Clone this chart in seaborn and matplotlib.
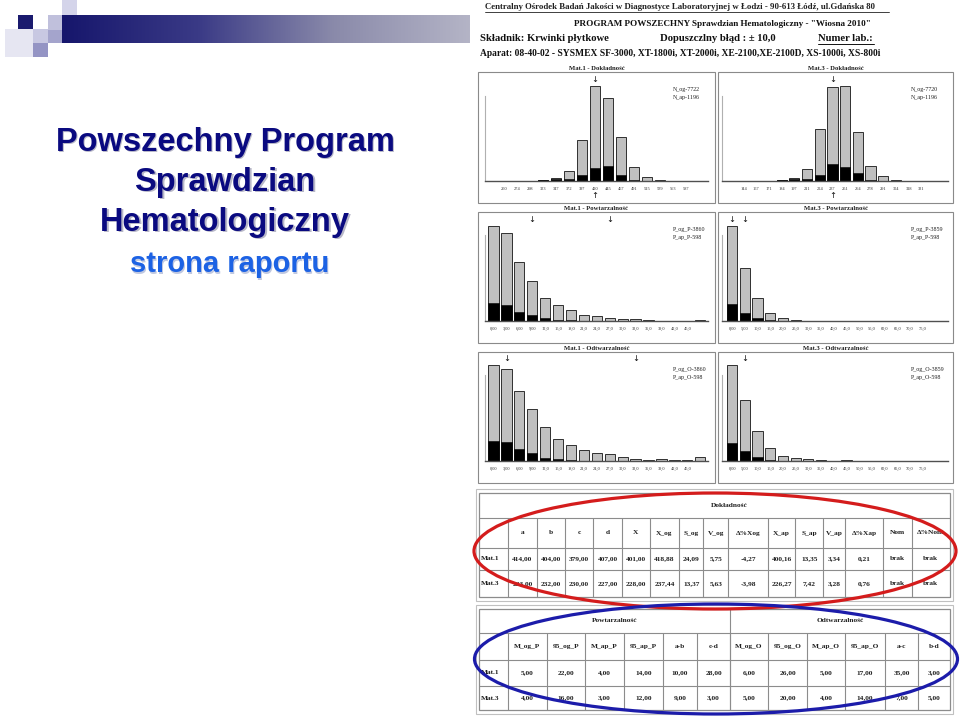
import numpy as np
import pandas as pd
import matplotlib
matplotlib.use("Agg")
import matplotlib.pyplot as plt
import seaborn as sns
from matplotlib.patches import Rectangle, Ellipse
from matplotlib.colors import LinearSegmentedColormap

# ---------------- data ----------------
dok1_bins = ["250", "274", "298", "323", "347", "372", "397", "420", "445", "467", "491", "515", "539", "563", "587"]
dok1_og = [0, 0, 0, 18, 70, 255, 1071, 2496, 2169, 1150, 378, 97, 18, 0, 0]
dok1_ap = [0, 0, 0, 19, 47, 47, 168, 336, 402, 149, 28, 0, 0, 0, 0]

dok3_bins = ["144", "157", "171", "184", "197", "211", "224", "237", "251", "264", "278", "291", "304", "318", "331"]
dok3_og = [0, 0, 0, 16, 63, 283, 1220, 2219, 2235, 1157, 362, 126, 31, 8, 0]
dok3_ap = [0, 0, 0, 17, 42, 42, 134, 410, 334, 192, 25, 0, 0, 0, 0]

rep1_bins = ["0,00", "3,00", "6,00", "9,00", "12,0", "15,0", "18,0", "21,0", "24,0", "27,0",
             "30,0", "33,0", "36,0", "39,0", "42,0", "45,0", " "]
powt1_og = [1041, 965, 642, 443, 250, 174, 123, 62, 51, 33, 25, 18, 11, 4, 4, 4, 11]
powt1_ap = [200, 175, 96, 68, 36, 14, 7, 2, 0, 0, 0, 0, 0, 0, 0, 0, 0]
odtw1_og = [880, 843, 644, 475, 310, 202, 144, 101, 71, 61, 34, 18, 9, 15, 9, 9, 34]
odtw1_ap = [183, 170, 112, 71, 31, 22, 9, 0, 0, 0, 0, 0, 0, 0, 0, 0, 0]

rep3_bins = ["0,00", "5,00", "10,0", "15,0", "20,0", "25,0", "30,0", "35,0", "40,0", "45,0",
             "50,0", "55,0", "60,0", "65,0", "70,0", "75,0", " "]
powt3_og = [1978, 1109, 482, 158, 55, 28, 7, 7, 7, 7, 7, 7, 0, 0, 0, 0, 7]
powt3_ap = [362, 158, 66, 12, 0, 0, 0, 0, 0, 0, 0, 0, 0, 0, 0, 0, 0]
odtw3_og = [1745, 1111, 550, 230, 91, 54, 36, 12, 6, 18, 0, 0, 0, 0, 0, 0, 6]
odtw3_ap = [334, 182, 64, 18, 0, 0, 0, 0, 0, 0, 0, 0, 0, 0, 0, 0, 0]

dok_cols = ["a", "b", "c", "d", "X", "X_og", "S_og", "V_og", "Δ%Xog", "X_ap", "S_ap", "V_ap", "Δ%Xap", "Nom", "Δ%Nom"]
dok_mat1 = ["414,00", "404,00", "379,00", "407,00", "401,00", "418,88", "24,09", "5,75", "-4,27", "400,16", "13,35", "3,34", "0,21", "brak", "brak"]
dok_mat3 = ["223,00", "232,00", "230,00", "227,00", "228,00", "237,44", "13,37", "5,63", "-3,98", "226,27", "7,42", "3,28", "0,76", "brak", "brak"]

rep_cols = ["M_og_P", "95_og_P", "M_ap_P", "95_ap_P", "a-b", "c-d", "M_og_O", "95_og_O", "M_ap_O", "95_ap_O", "a-c", "b-d"]
rep_mat1 = ["5,00", "22,00", "4,00", "14,00", "10,00", "28,00", "6,00", "26,00", "5,00", "17,00", "35,00", "3,00"]
rep_mat3 = ["4,00", "16,00", "3,00", "12,00", "9,00", "3,00", "5,00", "20,00", "4,00", "14,00", "7,00", "5,00"]

# ---------------- figure ----------------
W, H = 960, 716
sns.set_theme(style="white")
plt.rcParams['font.family'] = ['Liberation Serif', 'DejaVu Serif']

fig = plt.figure(figsize=(9.6, 7.16), dpi=100, facecolor="white")
bg = fig.add_axes([0, 0, 1, 1])
bg.set_facecolor("white")

SERIF = ['Liberation Serif', 'DejaVu Serif']
SANS = ['Liberation Sans', 'DejaVu Sans']

# decorative header of the slide
cmap = LinearSegmentedColormap.from_list("g", ["#16166c", "#3a3a86", "#8a8aaa", "#b4b4c6"])
bg.imshow(np.linspace(0, 1, 256)[None, :], cmap=cmap, aspect="auto",
          extent=(62, 470, 43, 15), zorder=1)
squares = [((5, 29, 28, 28), "#e6e6f2"), ((18, 15, 15, 14), "#1a1a6e"),
           ((33, 29, 15, 14), "#c8c8e2"), ((33, 43, 15, 14), "#9494c4"),
           ((48, 15, 14, 15), "#c0c0dc"), ((48, 30, 14, 13), "#a4a4cc"),
           ((62, 0, 15, 15), "#d4d4ea")]
for (x, y, w, h), c in squares:
    bg.add_patch(Rectangle((x, y), w, h, facecolor=c, edgecolor="none", zorder=2))

# slide title
for txt, y in [("Powszechny Program", 142), ("Sprawdzian", 182), ("Hematologiczny", 222)]:
    bg.text(226.5, y + 1.5, txt, ha="center", va="center", fontsize=23.5, fontweight="bold",
            color="#b8b8c8", family=SANS, zorder=3)
    bg.text(225, y, txt, ha="center", va="center", fontsize=23.5, fontweight="bold",
            color="#0a0a80", family=SANS, zorder=4)
bg.text(231, 265.5, "strona raportu", ha="center", va="center", fontsize=21, fontweight="bold",
        color="#c0c8e0", family=SANS, zorder=3)
bg.text(230, 264.5, "strona raportu", ha="center", va="center", fontsize=21, fontweight="bold",
        color="#1c62e4", family=SANS, zorder=4)

# report header
bg.text(485, 7, "Centralny Ośrodek Badań Jakości w Diagnostyce Laboratoryjnej w Łodzi - 90-613 Łódź, ul.Gdańska 80",
        ha="left", va="center", fontsize=6.35, fontweight="bold", family=SERIF, color="#202020")
bg.plot([485, 889], [11.5, 11.5], color="#202020", lw=0.6)
bg.text(722, 23.5, 'PROGRAM POWSZECHNY Sprawdzian Hematologiczny - "Wiosna 2010"',
        ha="center", va="center", fontsize=6.6, fontweight="bold", family=SERIF, color="#101010")
bg.text(480, 38.5, "Składnik: Krwinki płytkowe", ha="left", va="center", fontsize=7.7,
        fontweight="bold", family=SERIF, color="#101010")
bg.text(660, 38.5, "Dopuszczlny błąd : ± 10,0", ha="left", va="center", fontsize=7.7,
        fontweight="bold", family=SERIF, color="#101010")
bg.text(818, 38.5, "Numer lab.:", ha="left", va="center", fontsize=7.7,
        fontweight="bold", family=SERIF, color="#101010")
bg.plot([818, 874], [44, 44], color="#101010", lw=0.7)
bg.text(480, 53.5, "Aparat: 08-40-02 - SYSMEX SF-3000, XT-1800i, XT-2000i, XE-2100,XE-2100D, XS-1000i, XS-800i",
        ha="left", va="center", fontsize=6.85, fontweight="bold", family=SERIF, color="#101010")


def px_axes(x0, y0, x1, y1):
    return fig.add_axes([x0 / W, 1 - y1 / H, (x1 - x0) / W, (y1 - y0) / H])


def hist_panel(box, title, ax_box, xlim, bins, og, ap, leg, down, up=None):
    bx0, by0, bx1, by1 = box
    bg.add_patch(Rectangle((bx0, by0), bx1 - bx0, by1 - by0, facecolor="white",
                           edgecolor="#8a8a8a", lw=0.8, zorder=2))
    bg.text((bx0 + bx1) / 2, by0 - 4, title, ha="center", va="center", fontsize=4.8,
            fontweight="bold", family=SERIF, color="#202020")
    bg.text(bx1 - 42, by0 + 17, leg[0], ha="left", va="center", fontsize=4.3,
            family=SERIF, color="#202020", zorder=3)
    bg.text(bx1 - 42, by0 + 25, leg[1], ha="left", va="center", fontsize=4.3,
            family=SERIF, color="#202020", zorder=3)
    ax = px_axes(*ax_box)
    df = pd.DataFrame({"bin": bins, "og": og, "ap": ap})
    sns.barplot(data=df, x="bin", y="og", order=bins, color="#c0c0c0", saturation=1,
                edgecolor="#303030", linewidth=0.7, width=0.8, errorbar=None, ax=ax)
    sns.barplot(data=df, x="bin", y="ap", order=bins, color="#000000", saturation=1,
                edgecolor="#000000", linewidth=0.4, width=0.8, errorbar=None, ax=ax)
    ymax = max(og)
    ax.set_ylim(0, ymax)
    ax.set_xlim(*xlim)
    ax.set_facecolor("none")
    ax.set_xlabel("")
    ax.set_ylabel("")
    ax.set_yticks([])
    for s in ["top", "right"]:
        ax.spines[s].set_visible(False)
    ax.spines["left"].set_color("#b0b0b0")
    ax.spines["left"].set_linewidth(0.8)
    ax.spines["left"].set_bounds(0, ymax * 0.9)
    ax.spines["bottom"].set_color("#505050")
    ax.spines["bottom"].set_linewidth(1.0)
    ax.tick_params(axis="x", length=0, pad=4, labelsize=3.2, labelcolor="#303030")
    tr = ax.get_xaxis_transform()
    for i in down:
        ax.text(i, 1.065, "↓", transform=tr, ha="center", va="center", fontsize=6,
                family="DejaVu Sans", color="#101010", clip_on=False)
    if up is not None:
        ax.text(up, -0.15, "↑", transform=tr, ha="center", va="center", fontsize=6,
                family="DejaVu Sans", color="#101010", clip_on=False)
    return ax


hist_panel((478, 72, 715, 203), "Mat.1 - Dokładność", (485, 86, 708, 181), (-1.44, 15.7),
           dok1_bins, dok1_og, dok1_ap, ("N_og-7722", "N_ap-1196"), [7], 7)
hist_panel((718, 72, 953, 203), "Mat.3 - Dokładność", (722, 86, 948, 181), (-1.7, 16.1),
           dok3_bins, dok3_og, dok3_ap, ("N_og-7720", "N_ap-1196"), [7], 7)
hist_panel((478, 212, 715, 343), "Mat.1 - Powtarzalność", (485, 226, 708, 321), (-0.65, 16.6),
           rep1_bins, powt1_og, powt1_ap, ("P_og_P-3860", "P_ap_P-598"), [3, 9])
hist_panel((718, 212, 953, 343), "Mat.3 - Powtarzalność", (722, 226, 948, 321), (-0.8, 17.0),
           rep3_bins, powt3_og, powt3_ap, ("P_og_P-3859", "P_ap_P-598"), [0, 1])
hist_panel((478, 352, 715, 483), "Mat.1 - Odtwarzalność", (485, 365, 708, 461), (-0.65, 16.6),
           rep1_bins, odtw1_og, odtw1_ap, ("P_og_O-3860", "P_ap_O-598"), [1, 11])
hist_panel((718, 352, 953, 483), "Mat.3 - Odtwarzalność", (722, 365, 948, 461), (-0.8, 17.0),
           rep3_bins, odtw3_og, odtw3_ap, ("P_og_O-3859", "P_ap_O-598"), [1])

# ---------------- tables ----------------
LC = "#8c8c8c"
TF = dict(fontsize=5.3, fontweight="bold", family=SERIF, color="#202020", zorder=4)


def hline(x0, x1, y):
    bg.plot([x0, x1], [y, y], color=LC, lw=0.8, zorder=3)


def vline(x, y0, y1):
    bg.plot([x, x], [y0, y1], color=LC, lw=0.8, zorder=3)


# table 1: Dokładność
xb1 = [479, 508.3, 536.7, 565, 593.3, 621.7, 650, 679, 703.3, 728.3, 768.3, 795, 823.3, 845, 883.3, 911.7, 950]
rows1 = [493, 518, 548, 570, 597]
bg.add_patch(Rectangle((476, 489), 477, 112, facecolor="none", edgecolor="#c0c0c0", lw=0.8, zorder=3))
bg.add_patch(Rectangle((479, 493), 471, 104, facecolor="white", edgecolor=LC, lw=0.9, zorder=2))
for y in rows1[1:-1]:
    hline(479, 950, y)
for x in xb1[1:-1]:
    vline(x, rows1[1], rows1[-1])
bg.text((508 + 950) / 2, (rows1[0] + rows1[1]) / 2, "Dokładność", ha="center", va="center", **TF)
for i, c in enumerate(dok_cols):
    cx = (xb1[i + 1] + xb1[i + 2]) / 2
    bg.text(cx, (rows1[1] + rows1[2]) / 2, c, ha="center", va="center", **TF)
    bg.text(cx, (rows1[2] + rows1[3]) / 2, dok_mat1[i], ha="center", va="center", **TF)
    bg.text(cx, (rows1[3] + rows1[4]) / 2, dok_mat3[i], ha="center", va="center", **TF)
bg.text(481, (rows1[2] + rows1[3]) / 2, "Mat.1", ha="left", va="center", **TF)
bg.text(481, (rows1[3] + rows1[4]) / 2, "Mat.3", ha="left", va="center", **TF)

# table 2: Powtarzalność / Odtwarzalność
xb2 = [479, 508, 547, 585, 624, 663, 697, 730, 768, 807, 845, 885, 918, 950]
rows2 = [609, 633, 660, 686, 710]
bg.add_patch(Rectangle((476, 605), 477, 109, facecolor="none", edgecolor="#c0c0c0", lw=0.8, zorder=3))
bg.add_patch(Rectangle((479, 609), 471, 101, facecolor="white", edgecolor=LC, lw=0.9, zorder=2))
for y in rows2[1:-1]:
    hline(479, 950, y)
vline(730, rows2[0], rows2[-1])
for x in xb2[1:-1]:
    vline(x, rows2[1], rows2[-1])
bg.text(615, (rows2[0] + rows2[1]) / 2, "Powtarzalność", ha="center", va="center", **TF)
bg.text(840, (rows2[0] + rows2[1]) / 2, "Odtwarzalność", ha="center", va="center", **TF)
for i, c in enumerate(rep_cols):
    cx = (xb2[i + 1] + xb2[i + 2]) / 2
    bg.text(cx, (rows2[1] + rows2[2]) / 2, c, ha="center", va="center", **TF)
    bg.text(cx, (rows2[2] + rows2[3]) / 2, rep_mat1[i], ha="center", va="center", **TF)
    bg.text(cx, (rows2[3] + rows2[4]) / 2, rep_mat3[i], ha="center", va="center", **TF)
bg.text(481, (rows2[2] + rows2[3]) / 2, "Mat.1", ha="left", va="center", **TF)
bg.text(481, (rows2[3] + rows2[4]) / 2, "Mat.3", ha="left", va="center", **TF)

# highlight ellipses
bg.add_patch(Ellipse((715, 551), 482, 116, facecolor="none", edgecolor="#d41c1c", lw=2.3, zorder=6))
bg.add_patch(Ellipse((716, 659), 483, 110, facecolor="none", edgecolor="#1c1caa", lw=2.3, zorder=6))

bg.set_xlim(0, W)
bg.set_ylim(H, 0)
bg.axis("off")

fig.savefig("out.png", dpi=100, facecolor="white")
